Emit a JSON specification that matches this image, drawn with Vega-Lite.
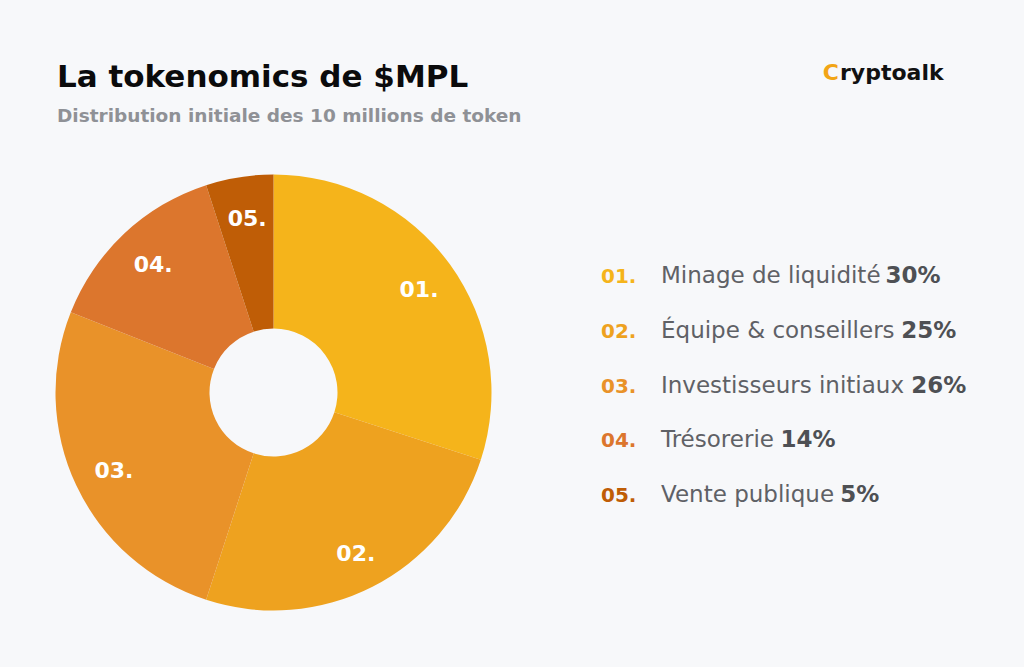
{
  "$schema": "https://vega.github.io/schema/vega-lite/v6.json",
  "width": 1024,
  "height": 667,
  "autosize": {"type": "fit", "contains": "padding"},
  "padding": 0,
  "background": "#F7F8FA",
  "config": {"view": {"stroke": null}, "font": "DejaVu Sans"},
  "data": {"values": [
    {"id": "01.", "name": "Minage de liquidité", "pct": 30},
    {"id": "02.", "name": "Équipe & conseillers", "pct": 25},
    {"id": "03.", "name": "Investisseurs initiaux", "pct": 26},
    {"id": "04.", "name": "Trésorerie", "pct": 14},
    {"id": "05.", "name": "Vente publique", "pct": 5}
  ]},
  "resolve": {"scale": {"y": "independent"}},
  "layer": [
    {
      "mark": {"type": "arc", "radius": 218, "innerRadius": 64, "strokeWidth": 0},
      "encoding": {
        "theta": {"field": "pct", "type": "quantitative", "stack": true},
        "order": {"field": "id", "type": "ordinal"},
        "color": {"field": "id", "type": "nominal", "legend": null,
          "scale": {"domain": ["01.", "02.", "03.", "04.", "05."], "range": ["#F5B41B", "#EEA21F", "#E99229", "#DC762D", "#BF5D06"]}},
        "x": {"datum": 273.5, "type": "quantitative", "scale": {"domain": [0, 1024], "nice": false, "zero": false}, "axis": null},
        "y": {"datum": 392.5, "type": "quantitative", "scale": {"domain": [0, 667], "nice": false, "reverse": true}, "axis": null}
      }
    },
    {
      "mark": {"type": "text", "radius": 178, "color": "white", "fontSize": 22, "fontWeight": "bold", "align": "center", "baseline": "middle"},
      "encoding": {
        "theta": {"field": "pct", "type": "quantitative", "stack": true},
        "order": {"field": "id", "type": "ordinal"},
        "text": {"field": "id"},
        "x": {"datum": 275, "type": "quantitative", "scale": {"domain": [0, 1024], "nice": false, "zero": false}, "axis": null},
        "y": {"datum": 395, "type": "quantitative", "scale": {"domain": [0, 667], "nice": false, "reverse": true}, "axis": null}
      }
    },
    {
      "mark": {"type": "text", "fontSize": 20, "fontWeight": "bold", "align": "left", "baseline": "alphabetic"},
      "encoding": {
        "text": {"field": "id"},
        "color": {"field": "id", "type": "nominal", "legend": null},
        "x": {"datum": 601, "type": "quantitative", "scale": {"domain": [0, 1024], "nice": false, "zero": false}, "axis": null},
        "y": {"field": "id", "type": "ordinal", "scale": {"type": "point", "range": [283, 502], "padding": 0}, "axis": null}
      }
    },
    {
      "mark": {"type": "text", "fontSize": 23, "align": "left", "baseline": "alphabetic", "color": "#5F6166"},
      "encoding": {
        "text": {"field": "name"},
        "x": {"datum": 661, "type": "quantitative", "scale": {"domain": [0, 1024], "nice": false, "zero": false}, "axis": null},
        "y": {"field": "id", "type": "ordinal", "scale": {"type": "point", "range": [283, 502], "padding": 0}, "axis": null}
      }
    },
    {
      "transform": [
        {"calculate": "datum.pct + '%'", "as": "pctLabel"},
        {"calculate": "661 + 23 * (0.615 * length(datum.name) - 0.337 * length(replace(datum.name, regexp('[^ilIj]', 'g'), '')) - 0.297 * length(replace(datum.name, regexp('[^ ]', 'g'), '')) - 0.21 * length(replace(datum.name, regexp('[^trf]', 'g'), '')) - 0.09 * length(replace(datum.name, regexp('[^scz]', 'g'), '')) + 0.25 * length(replace(datum.name, regexp('[^M&mw]', 'g'), '')) - 0.22 * length(replace(datum.name, regexp('[^T]', 'g'), '')) + 0.05 * length(replace(datum.name, regexp('[^V]', 'g'), '')) + 0.318)", "as": "pctX"}
      ],
      "mark": {"type": "text", "fontSize": 23, "fontWeight": "bold", "align": "left", "baseline": "alphabetic", "color": "#4E5054"},
      "encoding": {
        "text": {"field": "pctLabel"},
        "x": {"field": "pctX", "type": "quantitative", "scale": {"domain": [0, 1024], "nice": false, "zero": false}, "axis": null},
        "y": {"field": "id", "type": "ordinal", "scale": {"type": "point", "range": [283, 502], "padding": 0}, "axis": null}
      }
    },
    {
      "data": {"values": [{"t": "La tokenomics de $MPL"}]},
      "mark": {"type": "text", "fontSize": 31, "fontWeight": "bold", "align": "left", "baseline": "alphabetic", "color": "#0B0B0C"},
      "encoding": {
        "text": {"field": "t"},
        "x": {"datum": 57, "type": "quantitative", "scale": {"domain": [0, 1024], "nice": false, "zero": false}, "axis": null},
        "y": {"datum": 87, "type": "quantitative", "scale": {"domain": [0, 667], "nice": false, "reverse": true}, "axis": null}
      }
    },
    {
      "data": {"values": [{"t": "Distribution initiale des 10 millions de token"}]},
      "mark": {"type": "text", "fontSize": 18.5, "fontWeight": "bold", "align": "left", "baseline": "alphabetic", "color": "#8F9196"},
      "encoding": {
        "text": {"field": "t"},
        "x": {"datum": 57, "type": "quantitative", "scale": {"domain": [0, 1024], "nice": false, "zero": false}, "axis": null},
        "y": {"datum": 122, "type": "quantitative", "scale": {"domain": [0, 667], "nice": false, "reverse": true}, "axis": null}
      }
    },
    {
      "data": {"values": [{"t": "ryptoalk"}]},
      "mark": {"type": "text", "fontSize": 22, "fontWeight": "bold", "align": "left", "baseline": "alphabetic", "color": "#111111"},
      "encoding": {
        "text": {"field": "t"},
        "x": {"datum": 840, "type": "quantitative", "scale": {"domain": [0, 1024], "nice": false, "zero": false}, "axis": null},
        "y": {"datum": 80, "type": "quantitative", "scale": {"domain": [0, 667], "nice": false, "reverse": true}, "axis": null}
      }
    },
    {
      "data": {"values": [{"t": "C"}]},
      "mark": {"type": "text", "fontSize": 22, "fontWeight": "bold", "align": "right", "baseline": "alphabetic", "color": "#F2A516"},
      "encoding": {
        "text": {"field": "t"},
        "x": {"datum": 839, "type": "quantitative", "scale": {"domain": [0, 1024], "nice": false, "zero": false}, "axis": null},
        "y": {"datum": 80, "type": "quantitative", "scale": {"domain": [0, 667], "nice": false, "reverse": true}, "axis": null}
      }
    }
  ]
}
